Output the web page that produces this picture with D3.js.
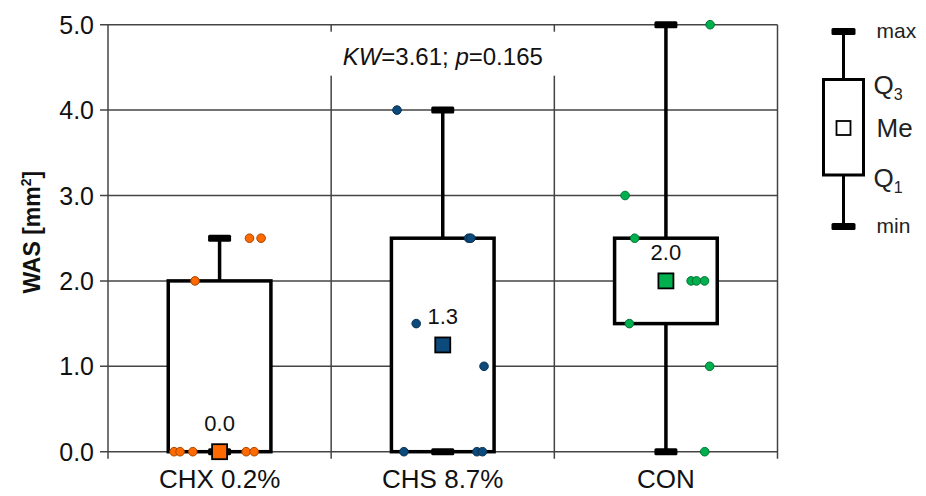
<!DOCTYPE html>
<html>
<head>
  <meta charset="utf-8">
  <script src="https://d3js.org/d3.v7.min.js"></script>
  <style>
    body { margin: 0; background: #fff; }
    text { font-family: "Liberation Sans", Arial, sans-serif; }
  </style>
</head>
<body>
  <svg id="chart" width="926" height="496"></svg>

  <script>
    // Datos
    const groups = ["CHX 0.2%", "CHS 8.7%", "CON"];
    const colors = ["#ff6a00", "#0d4a7c", "#00b04f"];
    const mins = [0, 0, 0];
    const q1s = [0, 0, 1.5];
    const medians = [0, 1.25, 2.0];
    const q3s = [2.0, 2.5, 2.5];
    const maxs = [2.5, 4.0, 5.0];
    // valores individuales y su desplazamiento (fraccion del ancho de categoria)
    const chxValues = [0, 0, 0, 0, 0, 2.0, 2.5, 2.5];
    const chxJitter = [-0.204, -0.177, -0.120, 0.119, 0.155, -0.110, 0.134, 0.186];
    const chsValues = [4.0, 2.5, 2.5, 1.5, 1.0, 0, 0, 0];
    const chsJitter = [-0.205, 0.116, 0.126, -0.119, 0.185, -0.174, 0.153, 0.178];
    const conValues = [5.0, 3.0, 2.5, 2.0, 2.0, 2.0, 1.5, 1.0, 0];
    const conJitter = [0.198, -0.183, -0.140, 0.113, 0.137, 0.173, -0.164, 0.196, 0.174];
    const yTicks = [0, 1, 2, 3, 4, 5];
    const statText = { kw: "3.61", p: "0.165" };

    const width = 926;
    const height = 496;
    const margin = { top: 24.7, right: 148.5, bottom: 44.3, left: 108 };
    const svg = d3.select("#chart");

    const x = d3.scaleBand().domain(groups).range([margin.left, width - margin.right]).padding(0);
    const y = d3.scaleLinear().domain([0, 5]).range([height - margin.bottom, margin.top]);
    const bw = x.bandwidth();
    const cx = (g) => x(g) + bw / 2;
    const gridColor = "#444";

    // Rejilla horizontal
    svg.append("g")
      .selectAll("line")
      .data(yTicks)
      .join("line")
      .attr("x1", margin.left - 8)
      .attr("x2", width - margin.right)
      .attr("y1", (d) => y(d))
      .attr("y2", (d) => y(d))
      .attr("stroke", gridColor)
      .attr("stroke-width", 1.5);

    // Rejilla vertical (bordes de categorias)
    const edges = groups.map((g) => x(g)).concat([width - margin.right]);
    svg.append("g")
      .selectAll("line")
      .data(edges)
      .join("line")
      .attr("x1", (d) => d)
      .attr("x2", (d) => d)
      .attr("y1", margin.top)
      .attr("y2", height - margin.bottom + 7)
      .attr("stroke", gridColor)
      .attr("stroke-width", 1.5);

    // Etiquetas del eje y
    svg.append("g")
      .selectAll("text")
      .data(yTicks)
      .join("text")
      .attr("x", margin.left - 14)
      .attr("y", (d) => y(d))
      .attr("dy", "0.36em")
      .attr("text-anchor", "end")
      .attr("font-size", 25)
      .attr("fill", "#111")
      .text((d) => d.toFixed(1));

    // Titulo del eje y
    const yTitle = svg.append("text")
      .attr("transform", `translate(40,${(margin.top + height - margin.bottom) / 2 - 6}) rotate(-90)`)
      .attr("text-anchor", "middle")
      .attr("font-size", 23)
      .attr("font-weight", "bold")
      .attr("fill", "#111");
    yTitle.append("tspan").text("WAS [mm");
    yTitle.append("tspan").attr("font-size", 14).attr("dy", -9).text("2");
    yTitle.append("tspan").attr("dy", 9).text("]");

    // Etiquetas de categorias
    svg.append("g")
      .selectAll("text")
      .data(groups)
      .join("text")
      .attr("x", (d) => cx(d))
      .attr("y", height - margin.bottom + 36)
      .attr("text-anchor", "middle")
      .attr("font-size", 26)
      .attr("fill", "#111")
      .text((d) => d);

    // Texto estadistico con fondo blanco
    const kwX = x(groups[1]) + bw / 2;
    svg.append("rect")
      .attr("x", kwX - 122)
      .attr("y", margin.top + 7)
      .attr("width", 244)
      .attr("height", 44)
      .attr("fill", "#fff");
    const kw = svg.append("text")
      .attr("x", kwX)
      .attr("y", margin.top + 40)
      .attr("text-anchor", "middle")
      .attr("font-size", 24)
      .attr("fill", "#111");
    kw.append("tspan").attr("font-style", "italic").text("KW");
    kw.append("tspan").text(`=${statText.kw}; `);
    kw.append("tspan").attr("font-style", "italic").text("p");
    kw.append("tspan").text(`=${statText.p}`);

    // Cajas
    const boxW = bw * 0.46;
    const capW = 23;
    const boxes = svg.append("g");
    groups.forEach((g, i) => {
      const c = cx(g);
      // bigotes
      boxes.append("line")
        .attr("x1", c).attr("x2", c)
        .attr("y1", y(maxs[i])).attr("y2", y(q3s[i]))
        .attr("stroke", "#000").attr("stroke-width", 3.5);
      boxes.append("line")
        .attr("x1", c).attr("x2", c)
        .attr("y1", y(q1s[i])).attr("y2", y(mins[i]))
        .attr("stroke", "#000").attr("stroke-width", 3.5);
      // caja
      boxes.append("rect")
        .attr("x", c - boxW / 2)
        .attr("y", y(q3s[i]))
        .attr("width", boxW)
        .attr("height", y(q1s[i]) - y(q3s[i]))
        .attr("fill", "#fff")
        .attr("stroke", "#000")
        .attr("stroke-width", 3.5);
    });

    // Puntos individuales
    const series = [
      { values: chxValues, jitter: chxJitter },
      { values: chsValues, jitter: chsJitter },
      { values: conValues, jitter: conJitter }
    ];
    series.forEach((s, i) => {
      const c = cx(groups[i]);
      svg.append("g")
        .selectAll("circle")
        .data(s.values)
        .join("circle")
        .attr("cx", (d, j) => c + s.jitter[j] * bw)
        .attr("cy", (d) => y(d))
        .attr("r", 4.3)
        .attr("fill", colors[i])
        .attr("stroke", d3.color(colors[i]).darker(1.2))
        .attr("stroke-width", 1);
    });

    // Extremos (max/min) encima de los puntos
    groups.forEach((g, i) => {
      const c = cx(g);
      [mins[i], maxs[i]].forEach((v) => {
        svg.append("rect")
          .attr("x", c - capW / 2)
          .attr("y", y(v) - 3.5)
          .attr("width", capW)
          .attr("height", 7)
          .attr("rx", 1.5)
          .attr("fill", "#000");
      });
    });

    // Mediana
    groups.forEach((g, i) => {
      const c = cx(g);
      svg.append("rect")
        .attr("x", c - 7.5)
        .attr("y", y(medians[i]) - 7.5)
        .attr("width", 15)
        .attr("height", 15)
        .attr("fill", colors[i])
        .attr("stroke", "#000")
        .attr("stroke-width", 1.8);
      svg.append("text")
        .attr("x", c)
        .attr("y", y(medians[i]) - 21)
        .attr("text-anchor", "middle")
        .attr("font-size", 22)
        .attr("fill", "#111")
        .text(medians[i].toFixed(1));
    });

    // Leyenda
    const lg = svg.append("g").attr("transform", "translate(843.5,0)");
    const ly = { max: 31.5, q3: 79.5, me: 128, q1: 175, min: 226.5 };
    lg.append("line").attr("x1", 0).attr("x2", 0).attr("y1", ly.max).attr("y2", ly.min)
      .attr("stroke", "#000").attr("stroke-width", 3);
    lg.append("rect").attr("x", -20).attr("y", ly.q3).attr("width", 40).attr("height", ly.q1 - ly.q3)
      .attr("fill", "#fff").attr("stroke", "#000").attr("stroke-width", 3);
    [ly.max, ly.min].forEach((v) => {
      lg.append("rect").attr("x", -12).attr("y", v - 3.5).attr("width", 24).attr("height", 7)
        .attr("rx", 1.5).attr("fill", "#000");
    });
    lg.append("rect").attr("x", -7).attr("y", ly.me - 7).attr("width", 14).attr("height", 14)
      .attr("fill", "#fff").attr("stroke", "#000").attr("stroke-width", 1.8);

    const legText = lg.append("g").attr("fill", "#222");
    legText.append("text").attr("x", 33).attr("y", ly.max).attr("dy", "0.32em")
      .attr("font-size", 21).text("max");
    legText.append("text").attr("x", 33).attr("y", ly.min).attr("dy", "0.32em")
      .attr("font-size", 21).text("min");
    legText.append("text").attr("x", 33).attr("y", ly.me).attr("dy", "0.36em")
      .attr("font-size", 26).text("Me");
    const q3t = legText.append("text").attr("x", 30).attr("y", 85).attr("dy", "0.36em").attr("font-size", 26);
    q3t.append("tspan").text("Q");
    q3t.append("tspan").attr("font-size", 16).attr("dy", 6).text("3");
    const q1t = legText.append("text").attr("x", 30).attr("y", 178).attr("dy", "0.36em").attr("font-size", 26);
    q1t.append("tspan").text("Q");
    q1t.append("tspan").attr("font-size", 16).attr("dy", 6).text("1");
  </script>
</body>
</html>
